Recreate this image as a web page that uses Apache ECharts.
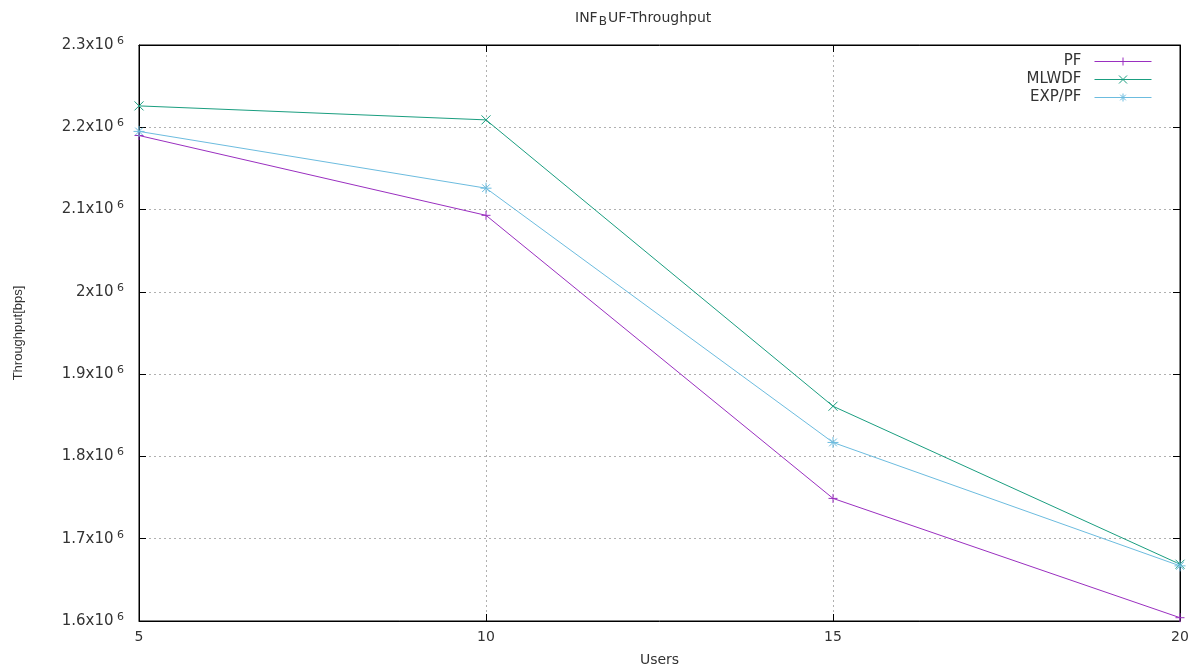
<!DOCTYPE html>
<html>
<head>
<meta charset="utf-8">
<script src="https://cdn.jsdelivr.net/npm/echarts@6/dist/echarts.min.js"></script>
<style>html,body{margin:0;padding:0;background:#fff}#c{width:1195px;height:672px}</style>
</head>
<body>
<div id="c"></div>
<script>
const users = [5, 10, 15, 20];
const pf = [2.190e6, 2.093e6, 1.749e6, 1.604e6];
const mlwdf = [2.226e6, 2.209e6, 1.861e6, 1.669e6];
const expPf = [2.195e6, 2.126e6, 1.817e6, 1.667e6];
const seriesNames = ['PF', 'MLWDF', 'EXP/PF'];
const colors = ['#9a2fc0', '#1a9e80', '#6cbcdf'];

const FONT = '"DejaVu Sans", Verdana, sans-serif';
const NFONT = '"Liberation Sans", Arial, sans-serif';
const plusPath = 'path://M0 5 L10 5 M5 0 L5 10';
const crossPath = 'path://M1 1 L9 9 M1 9 L9 1';
const starPath = 'path://M0 5 L10 5 M5 0 L5 10 M1.5 1.5 L8.5 8.5 M1.5 8.5 L8.5 1.5';
const symbols = [plusPath, crossPath, starPath];

function pairs(vals) { return users.map((u, i) => [u, vals[i]]); }

const chart = echarts.init(document.getElementById('c'), null, {renderer: 'canvas'});
const allData = [pf, mlwdf, expPf];

const gridLine = {show: true, lineStyle: {color: '#b0b0b0', type: [2, 3], width: 1}};

const option = {
  backgroundColor: '#fff',
  animation: false,
  title: {
    text: 'INF{sub|B}UF-Throughput',
    left: 570, top: 4,
    textStyle: {
      fontFamily: FONT, fontSize: 14, fontWeight: 'normal', color: '#333',
      rich: {sub: {fontSize: 12, verticalAlign: 'bottom', padding: [7, 1, 0, 1], fontFamily: FONT, color: '#333'}}
    }
  },
  legend: {
    data: seriesNames.map((n, i) => ({
      name: n,
      lineStyle: {color: colors[i], width: 1},
      itemStyle: {color: colors[i], borderColor: colors[i], borderWidth: 1}
    })),
    orient: 'vertical',
    right: 38, top: 49,
    align: 'right',
    itemWidth: 57, itemHeight: 10, itemGap: 3,
    textStyle: {fontFamily: FONT, fontSize: 15, lineHeight: 13, color: '#333', padding: [0, 8, 0, 0]}
  },
  grid: {left: 139, right: 15, top: 45, bottom: 51, show: true, borderColor: '#000', borderWidth: 1},
  xAxis: [{
    type: 'value', min: 5, max: 20, interval: 5,
    name: 'Users', nameLocation: 'middle', nameGap: 32,
    nameTextStyle: {fontFamily: FONT, fontSize: 14, color: '#333'},
    axisLine: {show: true, lineStyle: {color: '#000'}},
    axisTick: {show: true, inside: true, length: 7, lineStyle: {color: '#000'}},
    axisLabel: {fontFamily: FONT, fontSize: 14, color: '#333', margin: 9},
    splitLine: gridLine
  }, {
    type: 'value', min: 5, max: 20, interval: 5, position: 'top',
    axisLine: {show: true, lineStyle: {color: '#000'}},
    axisTick: {show: true, inside: true, length: 7, lineStyle: {color: '#000'}},
    axisLabel: {show: false}, splitLine: {show: false}
  }],
  yAxis: [{
    type: 'value', min: 1.6e6, max: 2.3e6, interval: 1e5,
    name: 'Throughput[bps]', nameLocation: 'middle', nameGap: 114, nameRotate: 90,
    nameTextStyle: {fontFamily: NFONT, fontSize: 13, color: '#333'},
    axisLine: {show: true, lineStyle: {color: '#000'}},
    axisTick: {show: true, inside: true, length: 7, lineStyle: {color: '#000'}},
    axisLabel: {
      fontFamily: FONT, color: '#333', margin: 15,
      formatter: function (v) {
        let m = Math.round(v / 1e5) / 10;
        let s = (m % 1 === 0) ? String(m) : m.toFixed(1);
        return '{a|' + s + 'x10}{s| 6}';
      },
      rich: {
        a: {fontFamily: FONT, fontSize: 15, color: '#333'},
        s: {fontFamily: FONT, fontSize: 11, color: '#333', verticalAlign: 'top', padding: [0, 0, 8, 0]}
      }
    },
    splitLine: gridLine
  }, {
    type: 'value', min: 1.6e6, max: 2.3e6, interval: 1e5, position: 'right',
    axisLine: {show: true, lineStyle: {color: '#000'}},
    axisTick: {show: true, inside: true, length: 7, lineStyle: {color: '#000'}},
    axisLabel: {show: false}, splitLine: {show: false}
  }],
  series: seriesNames.map((n, i) => ({
    name: n, type: 'line', data: pairs(allData[i]),
    xAxisIndex: 0, yAxisIndex: 0,
    symbol: symbols[i], symbolSize: i === 2 ? 11 : 9,
    showAllSymbol: true,
    lineStyle: {color: colors[i], width: 1},
    itemStyle: {color: colors[i], borderColor: colors[i], borderWidth: 1},
    emphasis: {disabled: true}
  }))
};
chart.setOption(option);
</script>
</body>
</html>
